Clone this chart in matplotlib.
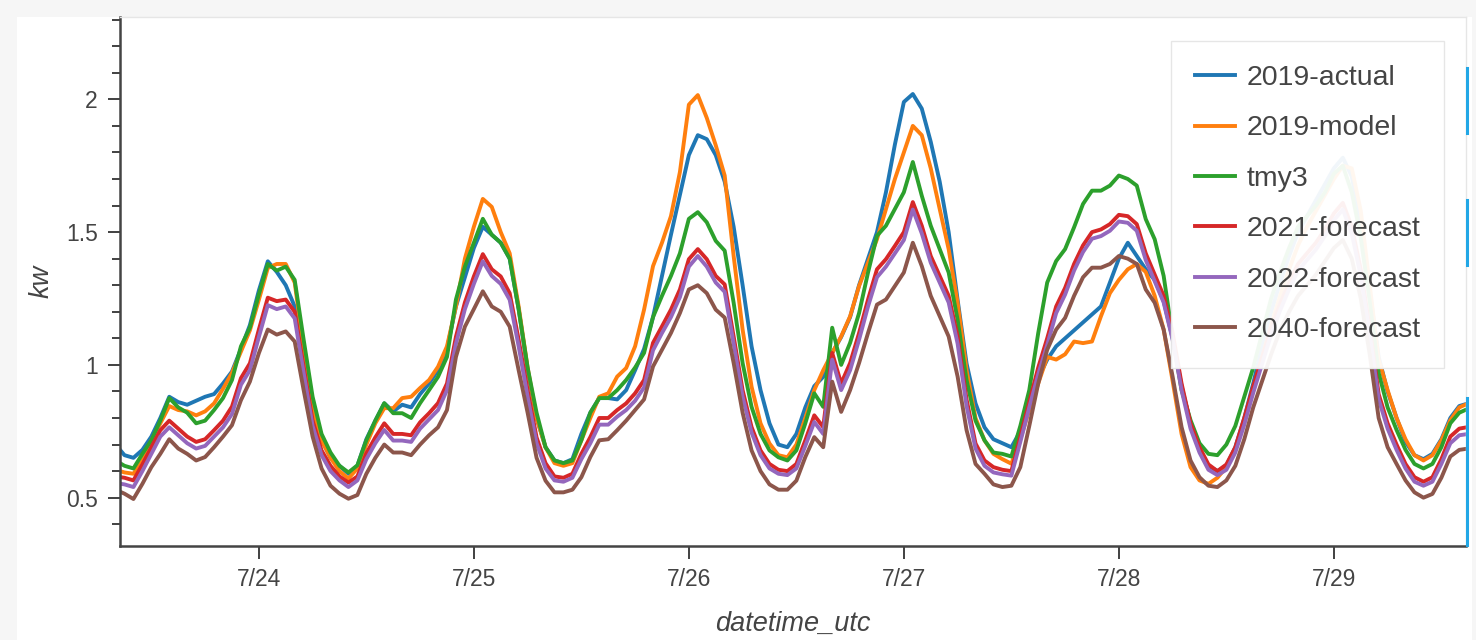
import numpy as np
import pandas as pd
import matplotlib
matplotlib.use("Agg")
import matplotlib.pyplot as plt
import matplotlib.dates as mdates
from matplotlib.ticker import MultipleLocator, FuncFormatter
from matplotlib.lines import Line2D
from matplotlib.patches import Rectangle

plt.rcParams['font.family'] = ['Liberation Sans', 'DejaVu Sans']

# hourly kw, 2019-07-23 08:00 .. 2019-07-29 15:00 (utc)
start = "2019-07-23 08:00"

actual_2019 = [
    0.70, 0.66, 0.65, 0.68, 0.73, 0.80, 0.88, 0.86, 0.85, 0.865, 0.88, 0.89, 0.93, 0.975, 1.06, 1.15,
    1.28, 1.39, 1.35, 1.30, 1.22, 1.01, 0.83, 0.72, 0.65, 0.62, 0.59, 0.62, 0.72, 0.79, 0.855, 0.825, 0.85, 0.84, 0.89, 0.93, 0.98, 1.06, 1.22, 1.33,
    1.44, 1.52, 1.49, 1.46, 1.40, 1.21, 0.98, 0.80, 0.69, 0.64, 0.63, 0.645, 0.74, 0.82, 0.875, 0.875, 0.87, 0.905, 0.98, 1.06, 1.18, 1.335, 1.49, 1.64,
    1.79, 1.865, 1.85, 1.79, 1.69, 1.52, 1.30, 1.07, 0.905, 0.78, 0.70, 0.69, 0.74, 0.84, 0.92, 0.955, 1.045, 1.105, 1.18, 1.30, 1.40, 1.50, 1.65, 1.83,
    1.99, 2.02, 1.965, 1.84, 1.69, 1.50, 1.245, 1.005, 0.855, 0.765, 0.72, 0.705, 0.69, 0.75, 0.85, 0.95, 1.02, 1.07, 1.10, 1.13, 1.16, 1.19, 1.22, 1.31,
    1.40, 1.46, 1.41, 1.36, 1.32, 1.24, 1.10, 0.92, 0.78, 0.68, 0.62, 0.60, 0.62, 0.69, 0.80, 0.93, 1.07, 1.20, 1.31, 1.41, 1.50, 1.56, 1.62, 1.68,
    1.74, 1.78, 1.71, 1.53, 1.28, 1.03, 0.90, 0.80, 0.71, 0.66, 0.645, 0.665, 0.72, 0.80, 0.845, 0.855,
]
model_2019 = [
    0.605, 0.595, 0.59, 0.64, 0.715, 0.78, 0.845, 0.83, 0.825, 0.81, 0.825, 0.855, 0.91, 0.97, 1.05, 1.13,
    1.245, 1.365, 1.38, 1.38, 1.31, 1.06, 0.84, 0.715, 0.65, 0.60, 0.572, 0.61, 0.70, 0.78, 0.837, 0.837, 0.875, 0.88, 0.913, 0.943, 0.993, 1.07, 1.22, 1.40,
    1.52, 1.625, 1.595, 1.50, 1.42, 1.22, 0.99, 0.80, 0.69, 0.63, 0.62, 0.63, 0.716, 0.80, 0.88, 0.893, 0.956, 0.988, 1.07, 1.208, 1.372, 1.46, 1.56, 1.726,
    1.98, 2.016, 1.93, 1.827, 1.713, 1.41, 1.133, 0.918, 0.78, 0.704, 0.66, 0.652, 0.70, 0.80, 0.905, 0.98, 1.045, 1.107, 1.183, 1.297, 1.385, 1.473, 1.587, 1.70,
    1.80, 1.90, 1.865, 1.74, 1.587, 1.436, 1.234, 0.98, 0.80, 0.716, 0.665, 0.645, 0.628, 0.72, 0.83, 0.93, 1.03, 1.02, 1.04, 1.088, 1.082, 1.088, 1.183, 1.27,
    1.32, 1.36, 1.38, 1.35, 1.26, 1.133, 0.94, 0.74, 0.615, 0.565, 0.552, 0.575, 0.615, 0.68, 0.79, 0.91, 1.03, 1.15, 1.26, 1.36, 1.45, 1.52, 1.58, 1.64,
    1.70, 1.75, 1.74, 1.58, 1.30, 1.02, 0.905, 0.80, 0.72, 0.66, 0.64, 0.66, 0.716, 0.792, 0.84, 0.855,
]
tmy3 = [
    0.64, 0.62, 0.61, 0.665, 0.716, 0.79, 0.875, 0.84, 0.82, 0.78, 0.79, 0.83, 0.875, 0.943, 1.07, 1.14,
    1.265, 1.38, 1.355, 1.37, 1.32, 1.095, 0.88, 0.74, 0.67, 0.62, 0.595, 0.622, 0.716, 0.79, 0.856, 0.818, 0.818, 0.80, 0.856, 0.905, 0.955, 1.03, 1.246, 1.37,
    1.46, 1.55, 1.49, 1.46, 1.40, 1.21, 0.99, 0.82, 0.69, 0.64, 0.63, 0.64, 0.716, 0.82, 0.875, 0.875, 0.905, 0.943, 0.99, 1.045, 1.18, 1.26, 1.335, 1.42,
    1.55, 1.575, 1.537, 1.467, 1.43, 1.234, 1.007, 0.842, 0.74, 0.678, 0.652, 0.64, 0.678, 0.78, 0.893, 0.842, 1.14, 1.0, 1.083, 1.195, 1.348, 1.486, 1.524, 1.587,
    1.65, 1.764, 1.637, 1.524, 1.436, 1.348, 1.17, 0.943, 0.79, 0.716, 0.67, 0.665, 0.655, 0.77, 0.905, 1.12, 1.31, 1.391, 1.436, 1.518, 1.606, 1.656, 1.656, 1.675,
    1.713, 1.70, 1.675, 1.549, 1.473, 1.335, 1.107, 0.905, 0.792, 0.705, 0.665, 0.66, 0.70, 0.77, 0.88, 0.99, 1.12, 1.25, 1.35, 1.44, 1.52, 1.56, 1.60, 1.65,
    1.72, 1.75, 1.65, 1.48, 1.24, 0.97, 0.84, 0.755, 0.68, 0.627, 0.61, 0.627, 0.69, 0.78, 0.82, 0.835,
]
forecast_2021 = [
    0.58, 0.575, 0.565, 0.625, 0.69, 0.754, 0.79, 0.76, 0.73, 0.71, 0.72, 0.754, 0.79, 0.843, 0.95, 1.006,
    1.133, 1.253, 1.24, 1.246, 1.20, 0.993, 0.79, 0.678, 0.62, 0.58, 0.557, 0.58, 0.667, 0.727, 0.78, 0.74, 0.74, 0.735, 0.784, 0.818, 0.856, 0.93, 1.106, 1.235,
    1.333, 1.417, 1.36, 1.333, 1.27, 1.095, 0.905, 0.727, 0.63, 0.58, 0.575, 0.59, 0.665, 0.728, 0.80, 0.80, 0.83, 0.855, 0.893, 0.943, 1.083, 1.145, 1.208, 1.284,
    1.398, 1.436, 1.398, 1.335, 1.303, 1.107, 0.905, 0.766, 0.678, 0.627, 0.605, 0.60, 0.627, 0.716, 0.81, 0.766, 1.045, 0.93, 1.007, 1.12, 1.246, 1.36, 1.398, 1.448,
    1.50, 1.613, 1.524, 1.41, 1.335, 1.26, 1.107, 0.87, 0.704, 0.64, 0.615, 0.605, 0.60, 0.73, 0.86, 0.99, 1.10, 1.22, 1.29, 1.38, 1.45, 1.50, 1.51, 1.53,
    1.565, 1.56, 1.53, 1.42, 1.34, 1.26, 1.12, 0.93, 0.78, 0.69, 0.625, 0.60, 0.625, 0.69, 0.80, 0.92, 1.03, 1.14, 1.23, 1.31, 1.38, 1.42, 1.46, 1.51,
    1.57, 1.61, 1.52, 1.36, 1.14, 0.89, 0.78, 0.70, 0.627, 0.577, 0.56, 0.577, 0.645, 0.73, 0.76, 0.766,
]
forecast_2022 = [
    0.555, 0.55, 0.54, 0.60, 0.665, 0.73, 0.765, 0.735, 0.705, 0.685, 0.695, 0.73, 0.765, 0.815, 0.925, 0.98,
    1.105, 1.225, 1.21, 1.22, 1.175, 0.97, 0.77, 0.66, 0.60, 0.565, 0.54, 0.565, 0.645, 0.705, 0.755, 0.715, 0.715, 0.71, 0.76, 0.795, 0.83, 0.905, 1.08, 1.21,
    1.305, 1.39, 1.335, 1.305, 1.245, 1.07, 0.88, 0.705, 0.61, 0.565, 0.56, 0.575, 0.645, 0.705, 0.775, 0.775, 0.805, 0.83, 0.865, 0.915, 1.055, 1.12, 1.18, 1.255,
    1.37, 1.41, 1.37, 1.31, 1.275, 1.08, 0.88, 0.745, 0.66, 0.61, 0.59, 0.585, 0.61, 0.695, 0.785, 0.74, 1.02, 0.905, 0.98, 1.095, 1.22, 1.33, 1.37, 1.42,
    1.47, 1.585, 1.495, 1.385, 1.31, 1.235, 1.08, 0.845, 0.685, 0.62, 0.595, 0.588, 0.583, 0.71, 0.84, 0.965, 1.075, 1.195, 1.265, 1.355, 1.425, 1.475, 1.485, 1.505,
    1.54, 1.535, 1.505, 1.395, 1.315, 1.235, 1.095, 0.905, 0.76, 0.67, 0.605, 0.585, 0.605, 0.67, 0.775, 0.895, 1.005, 1.115, 1.205, 1.285, 1.355, 1.395, 1.435, 1.485,
    1.545, 1.585, 1.495, 1.335, 1.115, 0.87, 0.76, 0.68, 0.61, 0.56, 0.545, 0.56, 0.627, 0.705, 0.735, 0.74,
]
forecast_2040 = [
    0.53, 0.515, 0.495, 0.552, 0.615, 0.665, 0.72, 0.685, 0.665, 0.64, 0.653, 0.69, 0.73, 0.773, 0.867, 0.937,
    1.044, 1.133, 1.114, 1.126, 1.088, 0.905, 0.73, 0.61, 0.545, 0.515, 0.496, 0.51, 0.59, 0.65, 0.70, 0.67, 0.67, 0.66, 0.70, 0.735, 0.765, 0.83, 1.03, 1.144,
    1.21, 1.277, 1.22, 1.20, 1.144, 0.98, 0.82, 0.65, 0.564, 0.52, 0.52, 0.53, 0.577, 0.653, 0.716, 0.72, 0.754, 0.79, 0.83, 0.87, 0.994, 1.057, 1.12, 1.195,
    1.284, 1.30, 1.27, 1.208, 1.178, 1.007, 0.82, 0.678, 0.60, 0.55, 0.53, 0.53, 0.564, 0.653, 0.728, 0.69, 0.937, 0.823, 0.905, 1.007, 1.12, 1.227, 1.246, 1.297,
    1.348, 1.46, 1.372, 1.26, 1.183, 1.107, 0.956, 0.754, 0.627, 0.59, 0.55, 0.54, 0.545, 0.615, 0.77, 0.93, 1.057, 1.133, 1.177, 1.26, 1.33, 1.366, 1.366, 1.38,
    1.41, 1.40, 1.38, 1.284, 1.234, 1.133, 0.956, 0.766, 0.64, 0.577, 0.545, 0.54, 0.565, 0.62, 0.72, 0.84, 0.94, 1.04, 1.13, 1.20, 1.26, 1.30, 1.34, 1.39,
    1.44, 1.47, 1.40, 1.25, 1.04, 0.80, 0.69, 0.627, 0.565, 0.52, 0.50, 0.514, 0.575, 0.655, 0.68, 0.685,
]

names = ["2019-actual", "2019-model", "tmy3", "2021-forecast", "2022-forecast", "2040-forecast"]
colors = ["#1f77b4", "#ff7f0e", "#2ca02c", "#d62728", "#9467bd", "#8c564b"]
series = [actual_2019, model_2019, tmy3, forecast_2021, forecast_2022, forecast_2040]

times = pd.date_range(start, periods=len(actual_2019), freq="h")

W, H = 1476, 640
fig = plt.figure(figsize=(W / 100, H / 100), dpi=100, facecolor="#f6f6f6")
# white card behind the plot
fig.add_artist(Rectangle((17 / W, 0), (1472 - 17) / W, 1 - 17 / H, transform=fig.transFigure,
                         facecolor="white", edgecolor="none", zorder=-10))
ax = fig.add_axes([120 / W, 94 / H, 1346 / W, 529 / H])
ax.set_zorder(5)
ax.set_facecolor("white")

for name, col, vals in zip(names, colors, series):
    ax.plot(times, vals, color=col, lw=2.8, label=name, solid_joinstyle="round")

ax.set_xlim(pd.Timestamp("2019-07-23 08:30"), pd.Timestamp("2019-07-29 14:45"))
ax.set_ylim(0.318, 2.31)

ax.xaxis.set_major_locator(mdates.DayLocator())
ax.xaxis.set_major_formatter(FuncFormatter(lambda v, p: "%d/%d" % (mdates.num2date(v).month, mdates.num2date(v).day)))
ax.yaxis.set_major_locator(MultipleLocator(0.5))
ax.yaxis.set_minor_locator(MultipleLocator(0.1))
ax.yaxis.set_major_formatter(FuncFormatter(lambda v, p: "%g" % v))

ax.tick_params(axis="both", which="major", direction="out", length=9, width=1.3, color="#333333",
               labelsize=16.5, labelcolor="#444444")
ax.tick_params(axis="y", which="minor", direction="out", length=6, width=1.3, color="#333333")
ax.tick_params(axis="x", pad=7)
ax.tick_params(axis="y", pad=7)

for s in ["left", "bottom"]:
    ax.spines[s].set_color("#444444")
    ax.spines[s].set_linewidth(1.8)
for s in ["top", "right"]:
    ax.spines[s].set_color("#e6e6e6")
    ax.spines[s].set_linewidth(1.0)

ax.set_xlabel("datetime_utc", fontsize=19.5, style="italic", color="#444444", labelpad=14)
ax.set_ylabel("kw", fontsize=19.5, style="italic", color="#444444", labelpad=8)

leg = ax.legend(loc="upper right", bbox_to_anchor=(0.984, 0.955), borderaxespad=0, fontsize=20.5,
                frameon=True, fancybox=False, framealpha=0.94, edgecolor="#e5e5e5", borderpad=0.85,
                labelspacing=0.86, handlelength=1.4, handletextpad=0.38)
for t in leg.get_texts():
    t.set_color("#444444")
leg.get_frame().set_linewidth(1.0)

# scroll marks along the right edge
for y0, y1 in [(68, 133), (200, 265), (398, 545)]:
    fig.add_artist(Line2D([1467 / W, 1467 / W], [1 - y0 / H, 1 - y1 / H], color="#22a7e6", lw=2.2, zorder=10))

fig.savefig("out.png", dpi=100, facecolor=fig.get_facecolor())
